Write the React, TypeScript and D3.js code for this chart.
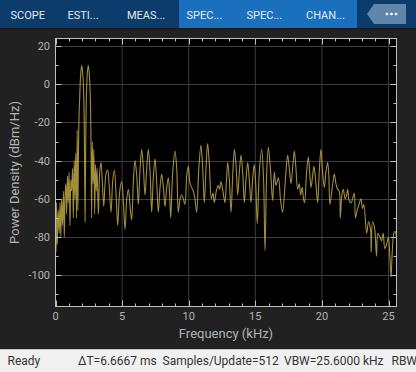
import React, { useEffect, useRef } from "react";
import * as d3 from "d3";

// spectrum trace: [frequency kHz, power dBm/Hz]
const freqKHz = [
  0.0, 0.04, 0.08, 0.13, 0.21, 0.28, 0.34, 0.4, 0.46, 0.53, 0.6, 0.66, 0.72, 0.78, 0.84, 0.9, 0.96, 1.02, 1.09,
  1.15, 1.21, 1.28, 1.34, 1.4, 1.46, 1.52, 1.58, 1.63, 1.68, 1.75, 1.82, 1.9, 1.97, 2.04, 2.12, 2.17, 2.22, 2.27,
  2.32, 2.39, 2.46, 2.53, 2.61, 2.66, 2.71, 2.76, 2.82, 2.88, 2.94, 3.0, 3.06, 3.12, 3.22, 3.32, 3.42, 3.52, 3.62,
  3.72, 3.82, 3.92, 4.02, 4.17, 4.3, 4.42, 4.55, 4.67, 4.82, 4.97, 5.1, 5.22, 5.35, 5.47, 5.6, 5.72, 5.85, 5.97,
  6.1, 6.22, 6.35, 6.47, 6.6, 6.72, 6.85, 6.97, 7.1, 7.22, 7.35, 7.47, 7.6, 7.72, 7.85, 7.97, 8.1, 8.22, 8.35,
  8.47, 8.57, 8.65, 8.8, 8.97, 9.1, 9.22, 9.35, 9.47, 9.6, 9.72, 9.85, 9.97, 10.1, 10.22, 10.35, 10.47, 10.6,
  10.75, 10.92, 11.05, 11.17, 11.3, 11.42, 11.55, 11.7, 11.82, 11.92, 12.07, 12.22, 12.32, 12.42, 12.57, 12.72,
  12.82, 12.93, 13.05, 13.18, 13.3, 13.43, 13.55, 13.68, 13.8, 13.93, 14.05, 14.18, 14.3, 14.43, 14.55, 14.68,
  14.8, 14.92, 15.03, 15.15, 15.3, 15.48, 15.62, 15.73, 15.85, 15.98, 16.15, 16.3, 16.43, 16.55, 16.73, 16.9,
  17.05, 17.2, 17.3, 17.43, 17.55, 17.68, 17.8, 17.93, 18.05, 18.18, 18.3, 18.4, 18.52, 18.62, 18.7, 18.85,
  18.98, 19.08, 19.18, 19.3, 19.4, 19.55, 19.68, 19.8, 19.93, 20.05, 20.18, 20.3, 20.43, 20.52, 20.6, 20.78,
  20.93, 21.05, 21.18, 21.3, 21.38, 21.5, 21.6, 21.75, 21.85, 21.93, 22.05, 22.2, 22.3, 22.43, 22.52, 22.65,
  22.78, 22.93, 23.05, 23.15, 23.36, 23.5, 23.65, 23.7, 23.8, 23.95, 24.1, 24.2, 24.35, 24.48, 24.6, 24.72,
  24.85, 24.99, 25.1, 25.19, 25.28, 25.4, 25.49, 25.6,
];
const powerDb = [
  -72, -88, -62, -84, -66, -78, -62, -80, -60, -74, -56, -80, -58, -52, -68, -48, -62, -46, -74,
  -50, -56, -44, -70, -40, -60, -36, -70, -24, -66, -22, -6, 6, 10, 6, -6, -30, -72, -30,
  -6, 6, 10, 6, -6, -26, -70, -30, -52, -34, -68, -42, -56, -44, -68, -46, -41, -52, -64,
  -52, -46, -45, -52, -67, -50, -45, -58, -74, -56, -51, -62, -76, -60, -55, -64, -71, -50, -40,
  -48, -63, -44, -34, -44, -58, -44, -34, -46, -67, -48, -39, -52, -67, -54, -47, -54, -64, -54,
  -49, -58, -70, -46, -35, -44, -67, -60, -58, -60, -63, -48, -43, -52, -54, -56, -60, -67,
  -45, -32, -44, -62, -44, -31, -42, -60, -57, -62, -56, -53, -55, -51, -56, -62,
  -52, -41, -50, -67, -48, -34, -42, -58, -46, -37, -46, -62, -50, -41, -50, -62,
  -50, -42, -52, -73, -46, -34, -50, -87, -48, -33, -46, -61, -46, -53, -49, -61,
  -67, -56, -46, -37, -44, -52, -44, -35, -44, -55, -52, -58, -54, -60, -62, -46,
  -38, -46, -54, -48, -43, -52, -62, -46, -34, -46, -54, -46, -41, -48, -63, -54,
  -47, -52, -55, -56, -70, -58, -55, -60, -58, -55, -61, -62, -60, -57, -70, -66,
  -63, -60, -65, -63, -78, -72, -76, -88, -72, -75, -90, -78, -80, -82, -78, -86,
  -84, -80, -90, -101, -88, -78, -77, -80,
];

const xMajor = [0, 5, 10, 15, 20, 25];
const yMajor = [20, 0, -20, -40, -60, -80, -100];
const tabNames = ["SCOPE", "ESTI...", "MEAS...", "SPEC...", "SPEC...", "CHAN..."];
const statusItems = ["ΔT=6.6667 ms", "Samples/Update=512", "VBW=25.6000 kHz", "RBW"];

const W = 416;
const H = 372;

const App = () => {
  const ref = useRef(null);

  useEffect(() => {
    const svg = d3.select(ref.current);
    svg.selectAll("*").remove();
    const font = "Roboto, 'Liberation Sans', sans-serif";

    svg.append("rect").attr("width", W).attr("height", H).attr("fill", "#212121");

    // toolstrip
    svg.append("rect").attr("width", W).attr("height", 28).attr("fill", "#0c3c6b");
    svg.append("rect").attr("x", 179).attr("width", 178).attr("height", 28).attr("fill", "#1b70be");
    const tabX = [10.5, 67.5, 127, 186.5, 246.5, 306];
    svg
      .append("g")
      .selectAll("text")
      .data(tabNames)
      .join("text")
      .attr("x", (d, i) => tabX[i])
      .attr("y", 18.5)
      .attr("fill", "#e2e8ee")
      .style("font", `11px ${font}`)
      .text((d) => d);
    svg
      .append("path")
      .attr("d", "M374,4 L406,4 L406,24 L374,24 L367,14 Z")
      .attr("fill", "#5f87ab");
    [387, 391.5, 396].forEach((cx) =>
      svg.append("circle").attr("cx", cx).attr("cy", 14).attr("r", 1.3).attr("fill", "#ffffff")
    );
    svg.append("rect").attr("y", 28).attr("width", W).attr("height", 1).attr("fill", "#151515");

    // plot area
    const x = d3.scaleLinear().domain([0, 25.6]).range([55.5, 396.5]);
    const y = d3.scaleLinear().domain([-116.4, 24]).range([306.5, 38.5]);
    const [x0, x1] = x.range();
    const [y0, y1] = [y.range()[1], y.range()[0]];

    svg.append("rect").attr("x", x0).attr("y", y0).attr("width", x1 - x0).attr("height", y1 - y0).attr("fill", "#000");

    const grid = svg.append("g").attr("stroke", "#3d3d3d").attr("stroke-width", 1);
    grid
      .selectAll("line.v")
      .data(xMajor.slice(1))
      .join("line")
      .attr("x1", (d) => x(d))
      .attr("x2", (d) => x(d))
      .attr("y1", y0)
      .attr("y2", y1);
    grid
      .selectAll("line.h")
      .data(yMajor)
      .join("line")
      .attr("x1", x0)
      .attr("x2", x1)
      .attr("y1", (d) => Math.round(y(d)) + 0.5)
      .attr("y2", (d) => Math.round(y(d)) + 0.5);

    // trace
    const line = d3
      .line()
      .x((d) => x(d[0]))
      .y((d) => y(d[1]))
      .curve(d3.curveCatmullRom.alpha(0.5));
    const pts = freqKHz.map((f, i) => [f, powerDb[i]]);
    svg
      .append("path")
      .datum(pts)
      .attr("d", line)
      .attr("fill", "none")
      .attr("stroke", "#c9b14a")
      .attr("stroke-width", 1.1)
      .attr("stroke-opacity", 0.8);

    // axes box and ticks
    const axisCol = "#bfbfbf";
    const ax = svg.append("g").attr("stroke", axisCol).attr("stroke-width", 1);
    ax.append("rect")
      .attr("x", x0)
      .attr("y", y0)
      .attr("width", x1 - x0)
      .attr("height", y1 - y0)
      .attr("fill", "none");
    const xMinor = d3.range(0, 26, 1);
    xMinor.forEach((v) => {
      const len = v % 5 === 0 ? 6 : 3;
      const px = Math.round(x(v)) + 0.5;
      ax.append("line").attr("x1", px).attr("x2", px).attr("y1", y1).attr("y2", y1 - len);
      ax.append("line").attr("x1", px).attr("x2", px).attr("y1", y0).attr("y2", y0 + len);
    });
    const yMinor = d3.range(-110, 21, 10);
    yMinor.forEach((v) => {
      const len = v % 20 === 0 ? 6 : 3;
      const py = Math.round(y(v)) + 0.5;
      ax.append("line").attr("x1", x0).attr("x2", x0 + len).attr("y1", py).attr("y2", py);
      ax.append("line").attr("x1", x1).attr("x2", x1 - len).attr("y1", py).attr("y2", py);
    });

    // tick labels
    svg
      .append("g")
      .selectAll("text")
      .data(xMajor)
      .join("text")
      .attr("x", (d) => x(d))
      .attr("y", 320)
      .attr("text-anchor", "middle")
      .attr("fill", "#b4b4b4")
      .style("font", `11px ${font}`)
      .text((d) => d);
    svg
      .append("g")
      .selectAll("text")
      .data(yMajor)
      .join("text")
      .attr("x", 50)
      .attr("y", (d) => y(d) + 4)
      .attr("text-anchor", "end")
      .attr("fill", "#b4b4b4")
      .style("font", `11px ${font}`)
      .text((d) => d);

    // axis titles
    svg
      .append("text")
      .attr("x", (x0 + x1) / 2)
      .attr("y", 338)
      .attr("text-anchor", "middle")
      .attr("fill", "#b4b4b4")
      .style("font", `13px ${font}`)
      .text("Frequency (kHz)");
    svg
      .append("text")
      .attr("transform", `translate(19,${(y0 + y1) / 2}) rotate(-90)`)
      .attr("text-anchor", "middle")
      .attr("fill", "#b4b4b4")
      .style("font", `13px ${font}`)
      .text("Power Density (dBm/Hz)");

    // status bar
    svg.append("rect").attr("y", 349).attr("width", W).attr("height", 23).attr("fill", "#f0f0f0");
    svg.append("rect").attr("y", 349).attr("width", W).attr("height", 1).attr("fill", "#c8c8c8");
    svg
      .append("text")
      .attr("x", 7.5)
      .attr("y", 365)
      .attr("fill", "#333")
      .style("font", `12px ${font}`)
      .text("Ready");
    const statusX = [78, 162.5, 284, 391.5];
    svg
      .append("g")
      .selectAll("text")
      .data(statusItems)
      .join("text")
      .attr("x", (d, i) => statusX[i])
      .attr("y", 365)
      .attr("fill", "#333")
      .style("font", `12px ${font}`)
      .text((d) => d);
  }, []);

  return (
    <div style={{ position: "fixed", left: 0, top: 0 }}>
      <svg ref={ref} width={W} height={H} style={{ display: "block" }}></svg>
    </div>
  );
};

export default App;
